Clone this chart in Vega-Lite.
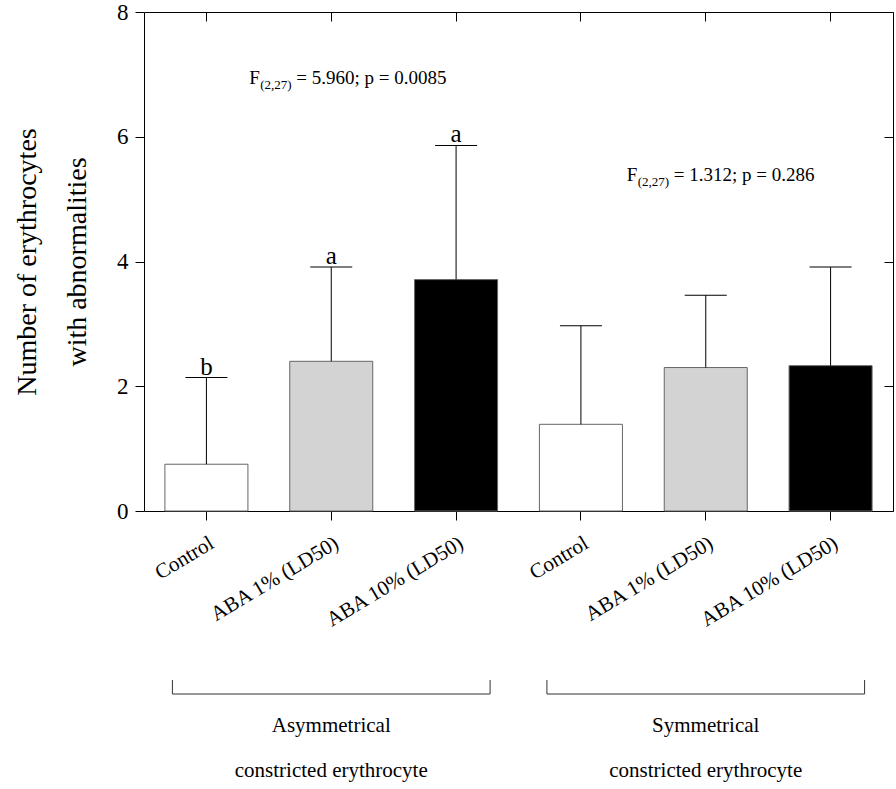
{
  "$schema": "https://vega.github.io/schema/vega-lite/v6.json",
  "width": 749,
  "height": 499,
  "autosize": {"type": "none"},
  "padding": {"left": 144, "top": 12, "right": 3, "bottom": 278},
  "config": {
    "font": "Liberation Serif",
    "view": {"stroke": null},
    "axis": {"domainColor": "#000", "tickColor": "#000", "labelColor": "#000", "titleColor": "#000", "grid": false, "labelFont": "Liberation Serif", "titleFont": "Liberation Serif", "domainWidth": 1, "tickWidth": 1}
  },
  "datasets": {
    "bars": [
      {"id": "Asymmetrical|Control", "group": "Asymmetrical", "treatment": "Control", "mean": 0.75, "upper": 2.14, "letter": "b"},
      {"id": "Asymmetrical|ABA 1% (LD50)", "group": "Asymmetrical", "treatment": "ABA 1% (LD50)", "mean": 2.40, "upper": 3.91, "letter": "a"},
      {"id": "Asymmetrical|ABA 10% (LD50)", "group": "Asymmetrical", "treatment": "ABA 10% (LD50)", "mean": 3.71, "upper": 5.86, "letter": "a"},
      {"id": "Symmetrical|Control", "group": "Symmetrical", "treatment": "Control", "mean": 1.39, "upper": 2.97, "letter": ""},
      {"id": "Symmetrical|ABA 1% (LD50)", "group": "Symmetrical", "treatment": "ABA 1% (LD50)", "mean": 2.30, "upper": 3.46, "letter": ""},
      {"id": "Symmetrical|ABA 10% (LD50)", "group": "Symmetrical", "treatment": "ABA 10% (LD50)", "mean": 2.33, "upper": 3.91, "letter": ""}
    ],
    "stats": [
      {"group": "Asymmetrical", "f": "F", "sub": "(2,27)", "rest": "= 5.960; p = 0.0085"},
      {"group": "Symmetrical", "f": "F", "sub": "(2,27)", "rest": "= 1.312; p = 0.286"}
    ],
    "groups": [
      {"group": "Asymmetrical", "first": "Asymmetrical|Control", "mid": "Asymmetrical|ABA 1% (LD50)", "last": "Asymmetrical|ABA 10% (LD50)", "label": "Asymmetrical\nconstricted erythrocyte"},
      {"group": "Symmetrical", "first": "Symmetrical|Control", "mid": "Symmetrical|ABA 1% (LD50)", "last": "Symmetrical|ABA 10% (LD50)", "label": "Symmetrical\nconstricted erythrocyte"}
    ]
  },
  "data": {"name": "bars"},
  "resolve": {"axis": {"x": "independent", "y": "independent"}},
  "layer": [
    {
      "mark": {"type": "bar", "stroke": "#666", "strokeWidth": 1},
      "encoding": {
        "x": {
          "field": "id", "type": "nominal",
          "scale": {"domain": ["Asymmetrical|Control", "Asymmetrical|ABA 1% (LD50)", "Asymmetrical|ABA 10% (LD50)", "Symmetrical|Control", "Symmetrical|ABA 1% (LD50)", "Symmetrical|ABA 10% (LD50)"], "paddingInner": 0.335, "paddingOuter": 0.1675},
          "axis": {"orient": "bottom", "title": null, "labelExpr": "split(datum.value, '|')[1]", "labelAngle": -31, "labelAlign": "right", "labelBaseline": "top", "labelFontSize": 21, "labelPadding": 12, "labelOffset": 0, "tickSize": 9}
        },
        "y": {
          "field": "mean", "type": "quantitative",
          "scale": {"domain": [0, 8], "nice": false},
          "axis": {"orient": "left", "values": [0, 2, 4, 6, 8], "tickSize": 9, "labelFontSize": 23, "labelPadding": 7, "title": ["Number of erythrocytes", "with abnormalities"], "titleFontSize": 28, "titleFontWeight": "normal", "titleAngle": 270, "titleAlign": "center", "titleBaseline": "alphabetic", "titleLineHeight": 50, "titleX": -109, "titleY": 249.5}
        },
        "fill": {"field": "treatment", "type": "nominal", "scale": {"domain": ["Control", "ABA 1% (LD50)", "ABA 10% (LD50)"], "range": ["#ffffff", "#d3d3d3", "#000000"]}, "legend": null}
      }
    },
    {
      "mark": {"type": "rule", "color": "#000", "strokeWidth": 1},
      "encoding": {
        "x": {"field": "id", "type": "nominal", "axis": {"orient": "top", "labels": false, "title": null, "tickSize": -9}},
        "y": {"field": "mean", "type": "quantitative", "scale": {"domain": [0, 8], "nice": false}, "axis": {"orient": "right", "labels": false, "title": null, "values": [0, 2, 4, 6, 8], "tickSize": -9}},
        "y2": {"field": "upper"}
      }
    },
    {
      "mark": {"type": "tick", "size": 42, "thickness": 1, "color": "#000", "opacity": 1},
      "encoding": {
        "x": {"field": "id", "type": "nominal", "axis": null},
        "y": {"field": "upper", "type": "quantitative", "scale": {"domain": [0, 8], "nice": false}, "axis": null}
      }
    },
    {
      "mark": {"type": "text", "baseline": "alphabetic", "dy": -3, "fontSize": 25, "color": "#000"},
      "encoding": {
        "x": {"field": "id", "type": "nominal", "axis": null},
        "y": {"field": "upper", "type": "quantitative", "scale": {"domain": [0, 8], "nice": false}, "axis": null},
        "text": {"field": "letter"}
      }
    },
    {
      "data": {"name": "stats"},
      "transform": [{"filter": "datum.group == 'Asymmetrical'"}],
      "encoding": {
        "x": {"datum": "Asymmetrical|ABA 1% (LD50)", "type": "nominal", "axis": null},
        "y": {"datum": 6.85, "type": "quantitative", "scale": {"domain": [0, 8], "nice": false}, "axis": null}
      },
      "layer": [
        {"mark": {"type": "text", "align": "left", "baseline": "alphabetic", "dx": -82, "fontSize": 19, "color": "#000"}, "encoding": {"text": {"field": "f"}}},
        {"mark": {"type": "text", "align": "left", "baseline": "alphabetic", "dx": -71, "dy": 5, "fontSize": 13, "color": "#000"}, "encoding": {"text": {"field": "sub"}}},
        {"mark": {"type": "text", "align": "left", "baseline": "alphabetic", "dx": -35, "fontSize": 19, "color": "#000"}, "encoding": {"text": {"field": "rest"}}}
      ]
    },
    {
      "data": {"name": "stats"},
      "transform": [{"filter": "datum.group == 'Symmetrical'"}],
      "encoding": {
        "x": {"datum": "Symmetrical|ABA 1% (LD50)", "type": "nominal", "axis": null},
        "y": {"datum": 5.285, "type": "quantitative", "scale": {"domain": [0, 8], "nice": false}, "axis": null}
      },
      "layer": [
        {"mark": {"type": "text", "align": "left", "baseline": "alphabetic", "dx": -79, "fontSize": 19, "color": "#000"}, "encoding": {"text": {"field": "f"}}},
        {"mark": {"type": "text", "align": "left", "baseline": "alphabetic", "dx": -68, "dy": 5, "fontSize": 13, "color": "#000"}, "encoding": {"text": {"field": "sub"}}},
        {"mark": {"type": "text", "align": "left", "baseline": "alphabetic", "dx": -32, "fontSize": 19, "color": "#000"}, "encoding": {"text": {"field": "rest"}}}
      ]
    },
    {
      "data": {"name": "groups"},
      "mark": {"type": "rule", "color": "#333", "strokeWidth": 1, "xOffset": -34, "x2Offset": 34},
      "encoding": {
        "x": {"field": "first", "type": "nominal", "bandPosition": 0.5, "axis": null},
        "x2": {"field": "last", "bandPosition": 0.5},
        "y": {"datum": -2.934, "type": "quantitative", "scale": {"domain": [0, 8], "nice": false}, "axis": null}
      }
    },
    {
      "data": {"name": "groups"},
      "mark": {"type": "rule", "color": "#333", "strokeWidth": 1, "xOffset": -34},
      "encoding": {
        "x": {"field": "first", "type": "nominal", "axis": null},
        "y": {"datum": -2.709, "type": "quantitative", "scale": {"domain": [0, 8], "nice": false}, "axis": null},
        "y2": {"datum": -2.934}
      }
    },
    {
      "data": {"name": "groups"},
      "mark": {"type": "rule", "color": "#333", "strokeWidth": 1, "xOffset": 34},
      "encoding": {
        "x": {"field": "last", "type": "nominal", "axis": null},
        "y": {"datum": -2.709, "type": "quantitative", "scale": {"domain": [0, 8], "nice": false}, "axis": null},
        "y2": {"datum": -2.934}
      }
    },
    {
      "data": {"name": "groups"},
      "mark": {"type": "text", "align": "center", "baseline": "alphabetic", "fontSize": 21, "lineBreak": "\n", "lineHeight": 45, "color": "#000"},
      "encoding": {
        "x": {"field": "mid", "type": "nominal", "axis": null},
        "y": {"datum": -3.543, "type": "quantitative", "scale": {"domain": [0, 8], "nice": false}, "axis": null},
        "text": {"field": "label"}
      }
    }
  ]
}
